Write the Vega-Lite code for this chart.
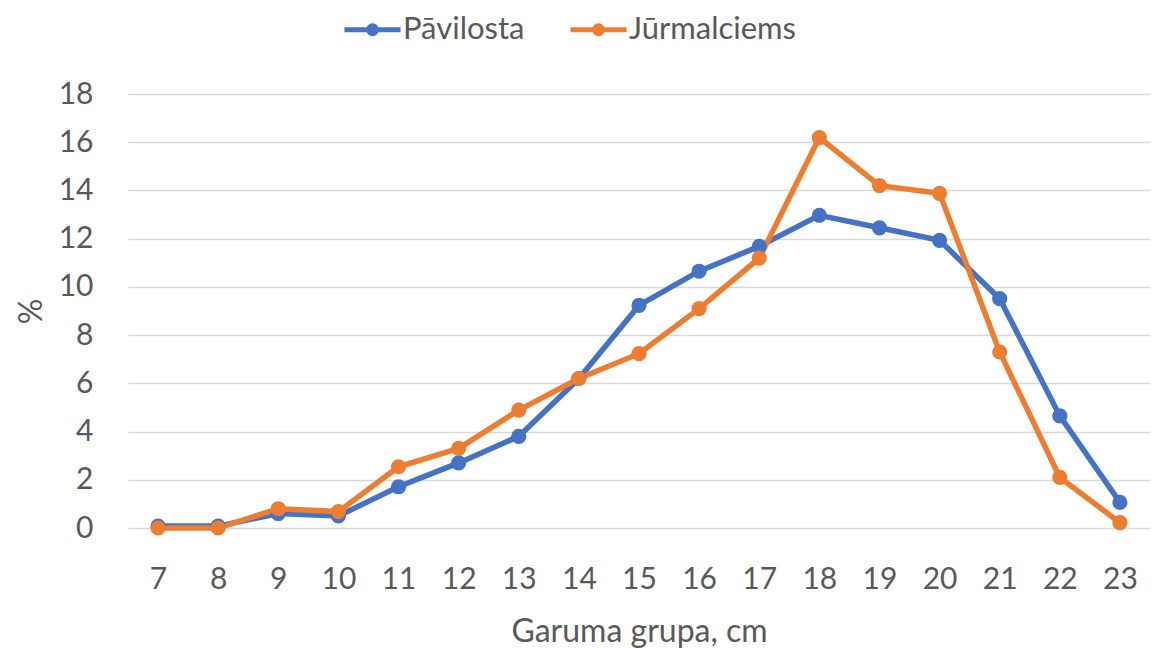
{
  "$schema": "https://vega.github.io/schema/vega-lite/v6.json",
  "width": 1022,
  "height": 434,
  "autosize": {"type": "none"},
  "padding": {"left": 128, "top": 94, "right": 3, "bottom": 120},
  "background": "white",
  "config": {
    "font": "Lato",
    "view": {"stroke": null},
    "axis": {"labelColor": "#595959", "titleColor": "#595959", "labelFont": "Lato", "titleFont": "Lato", "titleFontWeight": "normal"}
  },
  "data": {
    "values": [
      {"len": 7, "site": "Pāvilosta", "pct": 0.08},
      {"len": 8, "site": "Pāvilosta", "pct": 0.08},
      {"len": 9, "site": "Pāvilosta", "pct": 0.6},
      {"len": 10, "site": "Pāvilosta", "pct": 0.5},
      {"len": 11, "site": "Pāvilosta", "pct": 1.71},
      {"len": 12, "site": "Pāvilosta", "pct": 2.7},
      {"len": 13, "site": "Pāvilosta", "pct": 3.8},
      {"len": 14, "site": "Pāvilosta", "pct": 6.2},
      {"len": 15, "site": "Pāvilosta", "pct": 9.23},
      {"len": 16, "site": "Pāvilosta", "pct": 10.65},
      {"len": 17, "site": "Pāvilosta", "pct": 11.68},
      {"len": 18, "site": "Pāvilosta", "pct": 12.97},
      {"len": 19, "site": "Pāvilosta", "pct": 12.45},
      {"len": 20, "site": "Pāvilosta", "pct": 11.93},
      {"len": 21, "site": "Pāvilosta", "pct": 9.51},
      {"len": 22, "site": "Pāvilosta", "pct": 4.65},
      {"len": 23, "site": "Pāvilosta", "pct": 1.06},
      {"len": 7, "site": "Jūrmalciems", "pct": 0},
      {"len": 8, "site": "Jūrmalciems", "pct": 0},
      {"len": 9, "site": "Jūrmalciems", "pct": 0.8},
      {"len": 10, "site": "Jūrmalciems", "pct": 0.68},
      {"len": 11, "site": "Jūrmalciems", "pct": 2.54},
      {"len": 12, "site": "Jūrmalciems", "pct": 3.3},
      {"len": 13, "site": "Jūrmalciems", "pct": 4.89},
      {"len": 14, "site": "Jūrmalciems", "pct": 6.2},
      {"len": 15, "site": "Jūrmalciems", "pct": 7.23},
      {"len": 16, "site": "Jūrmalciems", "pct": 9.1},
      {"len": 17, "site": "Jūrmalciems", "pct": 11.19},
      {"len": 18, "site": "Jūrmalciems", "pct": 16.19},
      {"len": 19, "site": "Jūrmalciems", "pct": 14.2},
      {"len": 20, "site": "Jūrmalciems", "pct": 13.88},
      {"len": 21, "site": "Jūrmalciems", "pct": 7.3},
      {"len": 22, "site": "Jūrmalciems", "pct": 2.1},
      {"len": 23, "site": "Jūrmalciems", "pct": 0.22}
    ]
  },
  "mark": {"type": "line", "strokeWidth": 5.5, "point": {"size": 230, "filled": true, "opacity": 1}},
  "encoding": {
    "x": {
      "field": "len", "type": "ordinal",
      "scale": {"type": "point", "padding": 0.5},
      "axis": {"title": "Garuma grupa, cm", "titleFontSize": 32, "titlePadding": 22, "labelFontSize": 30, "labelPadding": 36, "labelAngle": 0, "domain": false, "ticks": false, "grid": false}
    },
    "y": {
      "field": "pct", "type": "quantitative",
      "scale": {"domain": [0, 18], "nice": false},
      "axis": {"title": "%", "titleFontSize": 32, "titlePadding": 10, "labelFontSize": 30, "labelPadding": 35, "values": [0, 2, 4, 6, 8, 10, 12, 14, 16, 18], "domain": false, "ticks": false, "grid": true, "gridColor": "#D9D9D9", "gridWidth": 1.5}
    },
    "color": {
      "field": "site", "type": "nominal",
      "scale": {"domain": ["Pāvilosta", "Jūrmalciems"], "range": ["#4472C4", "#ED7D31"]},
      "legend": {
        "title": null, "orient": "none", "direction": "horizontal",
        "legendX": 214, "legendY": -95,
        "labelFontSize": 31, "labelColor": "#595959", "labelFont": "Lato", "labelLimit": 400,
        "symbolType": "M-1,0H1M-0.14,0A0.14,0.14 0 1,0 0.14,0A0.14,0.14 0 1,0 -0.14,0",
        "symbolSize": 3136, "symbolStrokeWidth": 5, "labelOffset": 0, "columnPadding": 35
      }
    }
  }
}
